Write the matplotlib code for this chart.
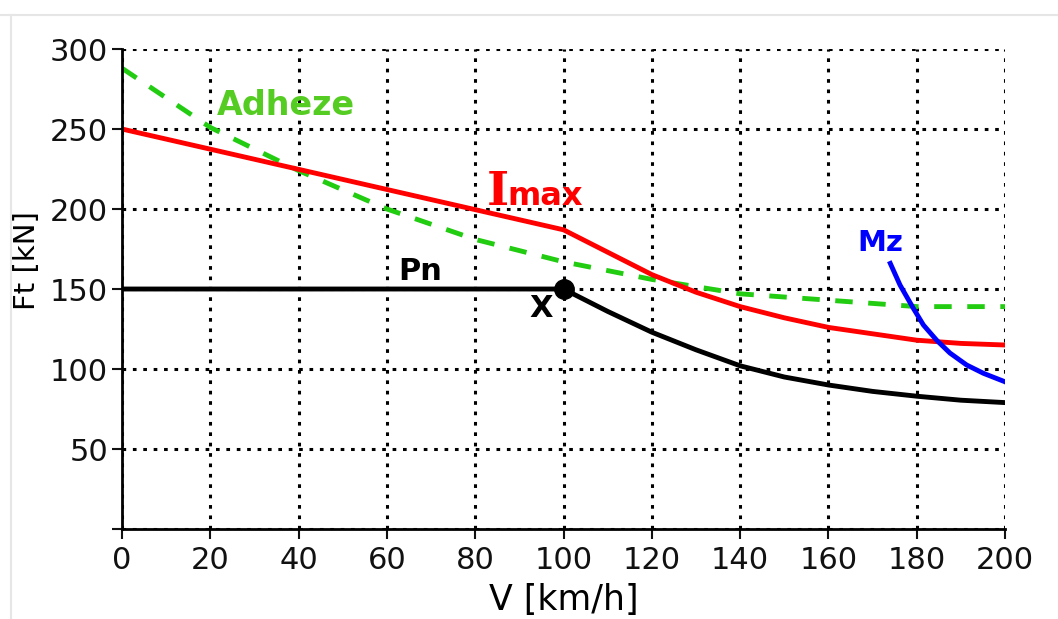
import matplotlib.pyplot as plt
from matplotlib.lines import Line2D

# data
v_pn = [0, 100, 110, 120, 130, 140, 150, 160, 170, 180, 190, 200]
f_pn = [150, 150, 136, 123, 112, 102, 95, 90, 86, 83, 80.5, 79]

v_imax = [0, 100, 110, 120, 130, 140, 150, 160, 170, 180, 190, 200]
f_imax = [250, 187, 173, 159, 148, 139, 132, 126, 122, 118, 116, 115]

v_adh = [0, 20, 40, 60, 80, 100, 120, 140, 160, 180, 200]
f_adh = [288, 251, 224, 200, 181, 167, 156, 147, 143, 139, 139]

v_mz = [174, 176.2, 179.2, 181.5, 184.5, 187.5, 191.3, 195.1, 200]
f_mz = [166, 152.5, 138, 127.5, 118, 110, 102.5, 97.3, 92]

x_ticks = [0, 20, 40, 60, 80, 100, 120, 140, 160, 180, 200]
y_ticks = [0, 50, 100, 150, 200, 250, 300]
y_labels = ['', '50', '100', '150', '200', '250', '300']

plt.rcParams['font.family'] = ['DejaVu Sans']
fig = plt.figure(figsize=(10.58, 6.19), dpi=100)
ax = fig.add_axes([0.1153, 0.1454, 0.950 - 0.1153, 0.9208 - 0.1454])

##frame lines around image
fig.add_artist(Line2D([0, 1], [0.976, 0.976], color='#e6e6e6', lw=1.5))
fig.add_artist(Line2D([0.0105, 0.0105], [0, 0.976], color='#e6e6e6', lw=1.5))

ax.set_xlim(0, 200)
ax.set_ylim(0, 300)
ax.set_xticks(x_ticks)
ax.set_yticks(y_ticks)
ax.set_yticklabels(y_labels)
ax.tick_params(labelsize=22, width=1.5, length=7, colors='#111111')
ax.tick_params(axis='x', pad=5)
ax.tick_params(axis='y', pad=3)
ax.set_xlabel('V [km/h]', fontsize=25, labelpad=6)
ax.set_ylabel('Ft [kN]', fontsize=21)
ax.yaxis.set_label_coords(-0.092, 0.56)

ax.spines['top'].set_color('none')
ax.spines['right'].set_color('none')
ax.spines['left'].set_linewidth(2)
ax.spines['bottom'].set_linewidth(2)

ax.grid(True, color='black', linestyle=(0, (1.2, 2.2)), linewidth=2.2)
ax.set_axisbelow(True)

ax.plot(v_adh, f_adh, color='#22cc11', lw=3.5, linestyle=(0, (3.6, 3.2)))
ax.plot(v_imax, f_imax, color='#ff0000', lw=3.5)
ax.plot(v_pn, f_pn, color='black', lw=3.5)
ax.plot(v_mz, f_mz, color='#0000ff', lw=3.5)
ax.plot([v_pn[1]], [f_pn[1]], 'o', color='black', markersize=14)

##labels
ax.text(21.5, 265, 'Adheze', color='#55cc22', fontsize=24, fontweight='bold', va='center')
ax.text(82.5, 202.5, 'I', color='#ff0000', fontsize=34, family='DejaVu Serif', fontweight='bold', va='baseline')
ax.text(87.2, 202.5, 'max', color='#ff0000', fontsize=23, fontweight='bold', va='baseline')
ax.text(62.5, 161, 'Pn', color='black', fontsize=22, fontweight='bold', va='center')
ax.text(92.3, 138, 'X', color='black', fontsize=22, fontweight='bold', va='center')
ax.text(166.5, 179, 'Mz', color='#0000ff', fontsize=21, fontweight='bold', va='center')

plt.savefig('out.png', dpi=100)
